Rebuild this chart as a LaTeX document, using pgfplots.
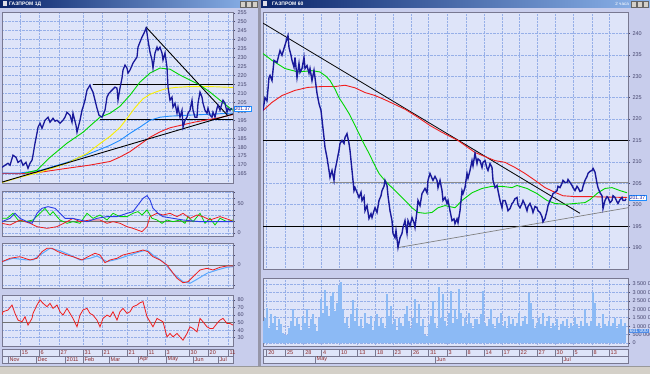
\documentclass[border=0pt]{standalone}
\usepackage{fontspec}
\setmainfont{Liberation Sans}
\usepackage{pgfplots}
\pgfplotsset{compat=1.18}
\definecolor{outerbg}{RGB}{200,205,236}
\definecolor{panelbg}{RGB}{222,228,249}
\definecolor{gridc}{RGB}{150,175,232}
\definecolor{framec}{RGB}{120,120,145}
\definecolor{labc}{RGB}{70,70,110}
\definecolor{pricec}{RGB}{25,25,155}
\definecolor{magreen}{RGB}{0,215,0}
\definecolor{mared}{RGB}{240,30,30}
\definecolor{mayellow}{RGB}{250,240,0}
\definecolor{mablue}{RGB}{30,140,255}
\definecolor{volc}{RGB}{140,186,245}
\definecolor{titleL}{RGB}{10,36,106}
\definecolor{titleR}{RGB}{140,180,235}
\definecolor{monthc}{RGB}{140,40,40}
\definecolor{dayc}{RGB}{140,40,40}
\definecolor{sepc}{RGB}{150,150,168}
\definecolor{iconc}{RGB}{220,220,230}
\definecolor{btnc}{RGB}{212,208,200}
\definecolor{adxc}{RGB}{40,60,230}
\definecolor{sigc}{RGB}{90,170,255}
\definecolor{tagc}{RGB}{80,140,230}
\newcommand{\sm}{\fontsize{5.5}{6}\selectfont}
\pgfplotsset{panel/.style={
  scale only axis, anchor=south west,
  axis background/.style={fill=panelbg},
  axis line style={draw=framec, line width=0.7pt},
  grid=major, major grid style={draw=gridc, densely dotted, line width=0.5pt},
  tick label style={font=\sm, text=labc},
  /pgf/number format/assume math mode=true,
  yticklabel pos=right, ytick pos=right, tick align=outside,
  major tick length=2pt, ytick style={draw=labc, line width=0.4pt},
  xtick style={draw=none}, xticklabels={},
  yticklabel style={xshift=-1pt}
}}
\begin{document}
\begin{tikzpicture}
\useasboundingbox (0pt,0pt) rectangle (650pt,374pt);
\begin{scope}[x=1pt,y=1pt]
\fill[outerbg] (0,0) rectangle (650,374);
\fill[sepc] (258,0) rectangle (261,374);
\shade[left color=titleL, right color=titleR] (0,366) rectangle (258,374);
\shade[left color=titleL, right color=titleR] (261,366) rectangle (650,374);
\node[anchor=west, text=white, font=\fontsize{5}{5}\selectfont\bfseries, inner sep=0pt] at (9,370) {ГАЗПРОМ 1Д};
\node[anchor=west, text=white, font=\fontsize{5}{5}\selectfont\bfseries, inner sep=0pt] at (272,370) {ГАЗПРОМ 60};
\node[anchor=east, text=white, font=\fontsize{4.5}{5}\selectfont, inner sep=0pt] at (629,370) {2 часа};
\foreach \bx in {3,263} {\fill[iconc] (\bx,367.5) rectangle ++(4,5);}
\foreach \bx in {631,637,643,240,246,252} {\fill[btnc] (\bx,367) rectangle ++(5,6); \draw[black!60,line width=0.3pt] (\bx,367) rectangle ++(5,6);}
\fill[btnc] (0,0) rectangle (650,8);
\draw[black!40, line width=0.4pt] (0,8) -- (650,8);
\end{scope}

% ===== Left main =====
\begin{axis}[panel, at={(2pt,191pt)}, width=231pt, height=171pt,
  xmin=2, xmax=233, ymin=160, ymax=255.4,
  xtick={20,39,59,83,102,127,147,165,189,208,228},
  ytick={165,170,...,255}]
\addplot[black, line width=1pt] coordinates {(93,215.0) (233,215.0)};
\addplot[black, line width=1pt] coordinates {(100,195.6) (233,195.6)};
\addplot[mared, line width=0.9pt] coordinates {(2,165.4)(20,165.2)(40,166)(67,168.2)(90,170)(100,171)(110,172)(120,174.5)(130,177.5)(140,181.5)(150,185.5)(160,188.5)(170,190.8)(183,192.5)(195,194)(207,195.2)(220,196.5)(233,198.2)};
\addplot[mablue, line width=0.9pt] coordinates {(2,165.6)(20,165.6)(40,167)(67,171.5)(90,176.5)(110,181)(120,183.8)(130,187.7)(140,191.2)(150,195)(160,196.7)(170,197.3)(187,197.8)(207,198.3)(233,199.0)};
\addplot[mayellow, line width=0.9pt] coordinates {(2,160.3)(20,163.2)(40,166)(67,171)(87,176.5)(100,182)(110,186)(120,191)(127,196)(135,202)(143,207)(150,209.5)(157,211)(165,212.5)(175,213.3)(190,213.8)(210,213.8)(233,213.3)};
\addplot[magreen, line width=0.9pt] coordinates {(25,165.5)(37,167.1)(50,174.3)(67,182.2)(83,188.3)(93,193.3)(100,196.7)(110,198.9)(120,202.8)(130,209.0)(140,216.3)(150,221.3)(160,224.1)(170,223.5)(180,220.2)(190,217.4)(200,214.6)(210,210.7)(220,206.2)(230,201.7)(233,200.6)};
\addplot[black, line width=0.9pt] coordinates {(2,160.5) (233,198.5)};
\addplot[black, line width=0.9pt] coordinates {(146,247) (228,197.5)};
\addplot[pricec, line width=1.3pt] coordinates {(2,168.7)(5,169.9)(8,171.0)(10,169.9)(13,175.5)(16,174.3)(18,171.5)(21,172.7)(23,169.9)(26,171.5)(28,168.2)(30,171.0)(32,172.7)(33,175.5)(35,182.2)(37,187.8)(38,191.1)(40,193.3)(42,190.5)(45,195.0)(48,196.7)(50,193.9)(53,196.1)(55,194.5)(57,195.0)(60,193.3)(63,195.0)(65,196.7)(67,199.5)(70,197.8)(72,193.9)(73,198.9)(76,192.2)(77,188.3)(80,195.0)(82,200.6)(83,202.3)(85,206.2)(87,211.8)(90,214.6)(91,212.9)(93,210.7)(95,206.2)(97,201.7)(99,197.8)(102,196.7)(105,200.6)(107,207.9)(109,210.1)(112,211.8)(115,213.5)(117,212.9)(118,206.2)(120,212.9)(122,218.5)(123,223.0)(125,225.8)(127,224.1)(128,221.3)(130,223.0)(133,226.9)(135,228.6)(137,230.2)(138,235.8)(140,238.6)(142,241.4)(144,243.6)(146,246.4)(147,243.6)(148,239.7)(150,233.0)(152,228.6)(153,224.1)(155,232.5)(157,235.8)(158,234.1)(160,235.8)(162,232.5)(163,228.6)(165,232.5)(167,224.6)(168,213.5)(170,206.2)(172,207.9)(173,202.3)(175,204.5)(177,198.9)(178,202.3)(180,196.7)(182,200.6)(183,191.1)(185,195.0)(187,196.7)(188,198.9)(190,200.6)(192,206.2)(193,200.6)(195,196.7)(197,196.7)(198,204.5)(200,210.7)(202,207.9)(203,204.5)(205,200.6)(207,198.9)(208,201.7)(210,197.8)(212,196.7)(213,199.5)(215,196.7)(217,201.7)(218,203.4)(220,200.6)(222,204.5)(223,206.2)(225,204.5)(227,199.5)(228,201.7)(230,200.6)(232,201.7)};
\end{axis}

% ===== Left panel 1 (ADX) =====
\begin{axis}[panel, at={(2pt,138pt)}, width=231pt, height=45pt,
  xmin=2, xmax=233, ymin=-5.2, ymax=72.4,
  xtick={20,39,59,83,102,127,147,165,189,208,228},
  ytick={0,10,...,70}, yticklabels={0,,,,,50,,}]
\addplot[black!55, line width=0.8pt] coordinates {(2,20) (233,20)};
\addplot[magreen, line width=0.8pt] coordinates {(2,25.3)(7,25.3)(13,33.9)(18,22.4)(25,19.5)(33,22.4)(40,33.9)(45,42.5)(50,31.0)(53,36.8)(57,28.2)(60,22.4)(67,16.7)(73,19.5)(80,16.7)(87,33.9)(93,25.3)(100,31.0)(107,22.4)(113,33.9)(120,28.2)(127,28.2)(133,33.9)(138,36.8)(142,31.0)(147,39.7)(152,25.3)(157,22.4)(162,16.7)(167,22.4)(173,19.5)(180,22.4)(185,16.7)(188,28.2)(193,19.5)(200,33.9)(205,16.7)(210,25.3)(215,13.8)(220,25.3)(227,19.5)(233,22.4)};
\addplot[mared, line width=0.8pt] coordinates {(2,16.7)(10,13.8)(20,22.4)(30,16.7)(37,10.9)(47,8.0)(57,10.9)(67,19.5)(73,25.3)(80,19.5)(90,22.4)(100,22.4)(107,16.7)(113,19.5)(120,16.7)(127,10.9)(133,8.0)(142,2.3)(147,10.9)(150,28.2)(157,33.9)(163,31.0)(170,33.9)(177,28.2)(183,33.9)(190,25.3)(197,31.0)(203,28.2)(210,22.4)(220,28.2)(230,22.4)(233,19.5)};
\addplot[adxc, line width=0.9pt] coordinates {(2,19.5)(10,25.3)(15,33.9)(20,25.3)(27,19.5)(32,16.7)(37,33.9)(42,42.5)(48,45.4)(55,42.5)(60,33.9)(65,25.3)(72,25.3)(80,22.4)(87,19.5)(97,25.3)(107,28.2)(117,28.2)(127,33.9)(133,36.8)(138,48.3)(143,59.8)(147,64.4)(150,56.9)(153,42.5)(158,33.9)(163,28.2)(173,25.3)(183,22.4)(200,19.5)(217,19.5)(233,19.5)};
\end{axis}

% ===== Left panel 2 (MACD) =====
\begin{axis}[panel, at={(2pt,86pt)}, width=231pt, height=45pt,
  xmin=2, xmax=233, ymin=-23, ymax=22,
  xtick={20,39,59,83,102,127,147,165,189,208,228},
  ytick={-20,-10,0,10,20}, yticklabels={,,0,,}]
\addplot[black!55, line width=0.8pt] coordinates {(2,0) (233,0)};
\addplot[sigc, line width=1pt] coordinates {(2,3.3)(13,6.7)(27,5)(33,5)(40,10)(50,16.7)(60,14.3)(70,10)(80,5)(90,6.7)(97,9)(107,3.3)(117,5.7)(127,9)(140,13.3)(147,15)(153,10)(163,3.3)(173,-8.3)(183,-16.7)(190,-18.3)(197,-14.3)(207,-8.3)(217,-5)(227,-2.3)(233,-1.7)};
\addplot[mared, line width=0.8pt] coordinates {(2,3.3)(10,6.7)(20,8.3)(30,5)(37,6.7)(42,13.3)(47,16.7)(52,16.7)(58,13.3)(67,10)(73,8.3)(82,5)(88,8.3)(95,11.7)(100,10)(105,2.3)(110,5)(117,6.7)(123,10)(130,11.7)(137,13.3)(143,15)(148,13.3)(153,8.3)(160,5)(167,0)(172,-6.7)(177,-13.3)(183,-17.7)(188,-16.7)(193,-11.7)(200,-5)(207,-3.3)(213,-5)(220,-2.3)(227,-1)(233,-1)};
\end{axis}

% ===== Left panel 3 (RSI) =====
\begin{axis}[panel, at={(2pt,28pt)}, width=231pt, height=51pt,
  xmin=2, xmax=233, ymin=19, ymax=86.6,
  xtick={20,39,59,83,102,127,147,165,189,208,228},
  ytick={30,40,...,80}]
\addplot[black!55, line width=0.8pt] coordinates {(2,50) (233,50)};
\addplot[mared, line width=0.8pt] coordinates {(2,60.0)(3,64.4)(8,66.7)(12,73.3)(15,62.2)(18,53.3)(22,51.1)(25,57.8)(28,46.7)(32,55.6)(33,62.2)(37,73.3)(40,80.0)(43,75.6)(47,71.1)(50,75.6)(53,68.9)(57,73.3)(60,64.4)(63,60.0)(67,68.9)(70,62.2)(73,55.6)(77,44.4)(80,60.0)(83,66.7)(87,68.9)(90,62.2)(93,60.0)(97,53.3)(100,44.4)(103,55.6)(107,60.0)(110,57.8)(113,64.4)(117,53.3)(120,64.4)(123,68.9)(127,62.2)(130,64.4)(133,71.1)(137,73.3)(140,76.4)(143,77.8)(147,57.8)(150,51.1)(153,44.4)(157,55.6)(160,53.3)(163,51.1)(167,31.1)(170,35.6)(173,31.1)(177,35.6)(180,31.1)(183,26.7)(187,35.6)(190,44.4)(193,42.2)(197,37.8)(200,55.6)(203,51.1)(207,44.4)(210,42.2)(213,42.2)(217,48.9)(220,53.3)(223,55.6)(227,48.9)(230,48.9)(233,46.7)};
\end{axis}

% ===== Right main =====
\begin{axis}[panel, at={(263pt,105pt)}, width=365pt, height=257pt,
  xmin=263, xmax=628, ymin=185, ymax=245,
  xtick={266.7,285.3,303.7,321.3,339.3,357.7,375.3,393,411.3,428.7,447,466,484,502,519,537,555,573,592,609},
  ytick={190,195,...,240}]
\addplot[black, line width=1pt] coordinates {(263,215) (628,215)};
\addplot[black, line width=1pt] coordinates {(263,195) (628,195)};
\addplot[black!45, line width=1.3pt] coordinates {(330,205.2) (628,205.2)};
\addplot[black!50, line width=0.7pt] coordinates {(398,190) (628,199.3)};
\addplot[black, line width=0.8pt] coordinates {(263,242.4) (580,198)};
\addplot[mared, line width=0.9pt] coordinates {(263,222.0)(272,223.9)(282,225.5)(295,226.7)(308,227.4)(322,227.6)(335,227.6)(345,227.9)(355,227.3)(365,226.2)(375,225.5)(385,224.5)(395,223.4)(405,222.3)(418,220.4)(430,218.5)(442,216.9)(458,215.0)(475,212.2)(495,210.3)(505,209.9)(515,208.7)(525,207.3)(535,205.7)(545,204.0)(555,202.9)(563,202.1)(575,201.9)(590,201.9)(605,201.8)(627,201.7)};
\addplot[magreen, line width=0.9pt] coordinates {(263,235.3)(272,233.7)(285,231.8)(298,231.0)(312,231.3)(320,231.0)(326,230.0)(330,229.0)(335,227.0)(339,225.0)(344,223.2)(349,221.3)(354,219.0)(359,216.6)(364,214.2)(369,212.0)(374,209.6)(379,207.3)(385,205.6)(392,204.0)(398,202.6)(405,201.0)(412,199.3)(418,198.2)(425,198.0)(432,198.2)(438,199.3)(445,199.8)(455,199.3)(462,201.0)(472,202.8)(482,203.8)(492,204.3)(502,204.3)(512,204.0)(517,204.5)(527,203.8)(537,202.6)(547,201.0)(555,200.3)(565,200.1)(575,200.3)(585,200.5)(590,201.2)(598,202.8)(605,203.8)(612,204.0)(620,203.3)(627,202.8)};
\addplot[pricec, line width=1.4pt] coordinates {(263,222.0)(265,225.0)(267,224.3)(269,229.7)(270,230.2)(272,229.0)(274,233.7)(277,233.2)(280,236.0)(282,234.9)(284,236.5)(287,238.8)(288,239.5)(289,236.7)(291,234.9)(292,233.7)(294,232.1)(295,234.4)(297,229.7)(299,233.0)(300,230.9)(302,231.8)(304,234.4)(305,231.8)(307,232.5)(309,230.7)(310,231.8)(312,229.0)(314,231.4)(315,229.7)(317,226.0)(319,223.6)(321,222.0)(324,215.7)(325,213.4)(327,211.0)(329,208.0)(330,206.4)(332,208.0)(334,205.7)(335,208.0)(337,210.3)(339,212.7)(340,214.3)(342,215.0)(344,214.3)(345,215.7)(347,216.6)(349,214.3)(350,212.7)(352,208.0)(354,203.3)(355,204.0)(357,202.9)(359,201.7)(361,202.9)(362,201.0)(364,201.9)(365,198.6)(367,199.8)(369,196.8)(371,197.9)(372,197.0)(374,198.6)(375,199.3)(377,198.2)(379,201.0)(381,202.1)(382,203.3)(384,204.3)(385,205.7)(387,204.5)(388,202.1)(390,198.6)(392,196.3)(393,193.3)(395,192.3)(396,194.0)(398,190.0)(400,192.3)(402,193.3)(403,194.7)(405,196.3)(407,193.3)(408,196.3)(410,195.1)(412,197.0)(414,195.8)(415,194.7)(417,198.6)(418,201.0)(420,199.8)(422,202.6)(425,203.8)(427,202.8)(428,205.7)(430,207.3)(432,206.2)(433,205.7)(435,206.6)(437,205.7)(438,204.0)(440,205.7)(442,203.3)(443,201.0)(445,201.7)(447,200.3)(448,201.0)(450,198.6)(452,196.3)(454,196.7)(455,195.6)(457,196.7)(458,195.8)(460,198.6)(462,203.3)(463,202.6)(465,204.0)(467,207.3)(468,206.2)(470,208.0)(472,210.3)(473,209.1)(475,212.0)(477,209.6)(478,210.7)(480,210.3)(482,208.7)(483,209.9)(485,210.3)(487,208.5)(488,208.0)(490,209.6)(492,208.7)(493,205.7)(495,204.0)(497,204.5)(498,203.3)(500,201.0)(502,199.3)(503,201.0)(505,201.0)(507,199.6)(508,198.6)(510,199.1)(512,200.3)(513,200.5)(515,201.4)(517,201.7)(518,200.0)(520,199.3)(522,200.3)(523,201.0)(525,200.0)(527,198.6)(528,199.6)(530,200.3)(532,199.1)(533,198.2)(535,199.6)(537,199.3)(538,198.6)(540,198.2)(542,197.2)(543,196.0)(545,196.8)(547,198.6)(548,199.8)(550,201.0)(552,201.9)(553,202.6)(555,202.9)(557,203.3)(558,204.3)(560,204.0)(562,205.0)(563,205.7)(565,205.2)(567,205.2)(568,205.9)(570,205.2)(572,204.5)(573,204.0)(575,203.3)(577,204.3)(578,204.0)(580,203.1)(582,203.3)(583,204.3)(585,205.7)(587,206.6)(588,207.3)(590,207.8)(592,208.0)(593,208.5)(595,207.6)(597,205.0)(598,204.0)(600,202.8)(602,202.1)(603,199.1)(605,201.0)(607,201.9)(608,201.7)(610,200.5)(612,201.0)(613,202.1)(615,201.7)(617,200.7)(618,200.3)(620,201.2)(622,201.7)(623,201.0)(625,201.0)(626,201.4)};
\end{axis}

% ===== Right volume =====
\begin{axis}[panel, at={(263pt,28pt)}, width=365pt, height=68pt,
  xmin=263, xmax=628, ymin=-178, ymax=3856,
  xtick={266.7,285.3,303.7,321.3,339.3,357.7,375.3,393,411.3,428.7,447,466,484,502,519,537,555,573,592,609},
  ytick={0,500,...,3500},
  yticklabels={0,500 000,1 000 000,1 500 000,2 000 000,2 500 000,3 000 000,3 500 000}]
\addplot[ycomb, volc, line width=1.1pt] coordinates {(263,1300)(265,1500)(267,2100)(269,900)(271,1700)(273,1200)(275,1600)(277,800)(279,1400)(281,1100)(283,600)(285,450)(287,500)(289,900)(291,1300)(293,2000)(295,1000)(297,1500)(299,1100)(301,800)(303,1600)(305,1200)(307,2000)(309,900)(311,1400)(313,1700)(315,1100)(317,700)(319,1500)(321,2600)(323,1800)(325,3150)(327,2200)(329,1600)(331,2800)(333,3000)(335,1900)(337,2400)(339,3450)(341,3600)(343,2000)(345,1200)(347,1500)(349,900)(351,1700)(353,2550)(355,1300)(357,2100)(359,1000)(361,1400)(363,900)(365,1800)(367,1200)(369,1100)(371,1600)(373,800)(375,1300)(377,1700)(379,1000)(381,1500)(383,1200)(385,900)(387,2900)(389,1600)(391,2200)(393,1100)(395,1400)(397,800)(399,1500)(401,1200)(403,1000)(405,1700)(407,2200)(409,1300)(411,900)(413,1500)(415,2600)(417,1200)(419,2300)(421,1000)(423,1400)(425,500)(427,400)(429,1100)(431,1600)(433,2500)(435,1200)(437,900)(439,3300)(441,1500)(443,2900)(445,1300)(447,1000)(449,1800)(451,3100)(453,1200)(455,2000)(457,1400)(459,3200)(461,1800)(463,1000)(465,1500)(467,1100)(469,1800)(471,1200)(473,900)(475,1400)(477,1400)(479,1100)(481,1700)(483,3100)(485,1200)(487,1000)(489,1400)(491,2000)(493,1100)(495,900)(497,1500)(499,1200)(501,1800)(503,1000)(505,1300)(507,900)(509,1600)(511,1100)(513,1400)(515,1000)(517,1200)(519,1800)(521,1000)(523,1300)(525,1600)(527,1100)(529,2950)(531,2400)(533,1400)(535,900)(537,1200)(539,1500)(541,1100)(543,1800)(545,1000)(547,1300)(549,1600)(551,900)(553,1200)(555,1000)(557,1400)(559,800)(561,1100)(563,1300)(565,1000)(567,1400)(569,900)(571,1200)(573,1000)(575,1500)(577,1100)(579,900)(581,1300)(583,1000)(585,2000)(587,1200)(589,1000)(591,1300)(593,3000)(595,2400)(597,1000)(599,1200)(601,900)(603,1700)(605,1100)(607,1000)(609,1300)(611,1000)(613,1200)(615,1500)(617,900)(619,1100)(621,1400)(623,1000)(625,1200)};
\end{axis}

\begin{scope}[x=1pt,y=1pt]
\node[draw=mablue, fill=white, text=pricec, inner sep=0.7pt, font=\fontsize{5}{5}\selectfont, anchor=west] at (234,265.5) {201.37};
\node[draw=mablue, fill=white, text=pricec, inner sep=0.7pt, font=\fontsize{5}{5}\selectfont, anchor=west] at (629,176.5) {201.37};
\node[fill=tagc, text=white, inner sep=0.7pt, font=\fontsize{5}{5}\selectfont, anchor=west] at (629,43) {601 000};
\foreach \xa/\xb in {2/233,263/628} {
  \fill[panelbg] (\xa,11) rectangle (\xb,25);
  \draw[framec, line width=0.5pt] (\xa,11) rectangle (\xb,25);
  \draw[framec, line width=0.5pt] (\xa,18) -- (\xb,18);
}
\foreach \p/\l in {20/15,39/6,59/27,83/31,102/21,127/21,147/11,165/3,189/30,208/20,228/11,
  266.7/20,285.3/25,303.7/28,321.3/4,339.3/10,357.7/13,375.3/18,393/23,411.3/26,428.7/31,447/3,466/8,484/14,502/17,519/22,537/27,555/30,573/5,592/8,609/13} {
  \draw[framec, line width=0.5pt] (\p,18) -- (\p,25);
  \node[anchor=west, inner sep=0pt, text=dayc, font=\sm] at (\p+1.5,21.5) {\l};
}
\foreach \p/\l in {8/Nov,36/Dec,65/2011,83/Feb,109/Mar,138/Apr,166/May,193/Jun,218/Jul,315/May,435/Jun,562/Jul} {
  \draw[framec, line width=0.5pt] (\p,11) -- (\p,18);
  \node[anchor=west, inner sep=0pt, text=monthc, font=\sm] at (\p+1.5,14.5) {\l};
}
\end{scope}
\end{tikzpicture}
\end{document}
